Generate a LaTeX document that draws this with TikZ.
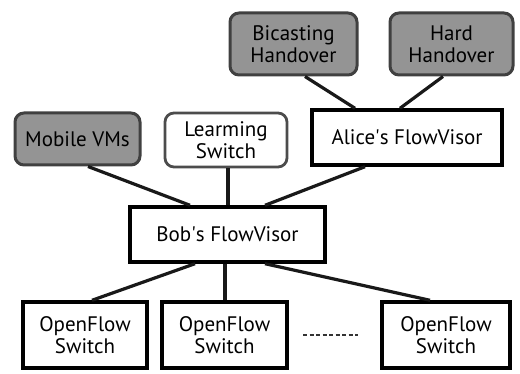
\documentclass[tikz,border=0pt]{standalone}
\usepackage{fontspec}
\setmainfont{PT Sans}
\tikzset{
  base/.style={draw=black, line width=3.4pt, align=center, inner sep=0pt,
    font=\fontsize{21}{22}\selectfont, text=black},
  graybox/.style={base, rounded corners=9pt, fill=black!42, draw=black!75, line width=3pt},
  whitebox/.style={base, rounded corners=9pt, fill=white, draw=black!70, line width=2.8pt},
  plainbox/.style={base, fill=white},
  link/.style={line width=3.2pt, draw=black!90},
}
\begin{document}
\begin{tikzpicture}[x=1pt,y=-1pt]
  \useasboundingbox (0,0) rectangle (520,374);
  % applications on top
  \node[graybox, minimum width=127pt, minimum height=62pt] (bic) at (293.5,44) {Bicasting\\Handover};
  \node[graybox, minimum width=123pt, minimum height=62pt] (hard) at (451.5,44) {Hard\\Handover};
  \node[graybox, minimum width=125pt, minimum height=52pt] (mvm) at (77.5,139) {Mobile VMs};
  \node[whitebox, minimum width=122pt, minimum height=54pt] (learn) at (226,140) {Learming\\Switch};
  % slicing layers
  \node[plainbox, minimum width=190pt, minimum height=55pt] (alice) at (407,137.5) {Alice\textquotesingle s FlowVisor};
  \node[plainbox, minimum width=195pt, minimum height=55pt] (bob) at (227.5,234.5) {Bob\textquotesingle s FlowVisor};
  % data plane
  \node[plainbox, minimum width=124pt, minimum height=66pt] (of1) at (85,335) {OpenFlow\\Switch};
  \node[plainbox, minimum width=125pt, minimum height=66pt] (of2) at (224.5,335) {OpenFlow\\Switch};
  \node[plainbox, minimum width=128pt, minimum height=66pt] (of3) at (446,335) {OpenFlow\\Switch};
  \coordinate (dotsL) at (303,335);
  \coordinate (dotsR) at (358,335);
  % connections
  \draw[link] ([xshift=11.5pt]bic.south) -- ([xshift=-52pt]alice.north);
  \draw[link] ([xshift=-8.5pt]hard.south) -- ([xshift=-7pt]alice.north);
  \draw[link] ([xshift=10.5pt]mvm.south) -- ([xshift=-37.5pt]bob.north);
  \draw[link] ([xshift=2pt]learn.south) -- ([xshift=0.5pt]bob.north);
  \draw[link] ([xshift=-42pt]alice.south) -- ([xshift=37.5pt]bob.north);
  \draw[link] ([xshift=-32.5pt]bob.south) -- ([xshift=7pt]of1.north);
  \draw[link] ([xshift=-2.5pt]bob.south) -- ([xshift=0.5pt]of2.north);
  \draw[link] ([xshift=37.5pt]bob.south) -- ([xshift=-16pt]of3.north);
  \draw[line width=2.6pt, dash pattern=on 4pt off 2.5pt, black!80] (dotsL) -- (dotsR);
\end{tikzpicture}
\end{document}
